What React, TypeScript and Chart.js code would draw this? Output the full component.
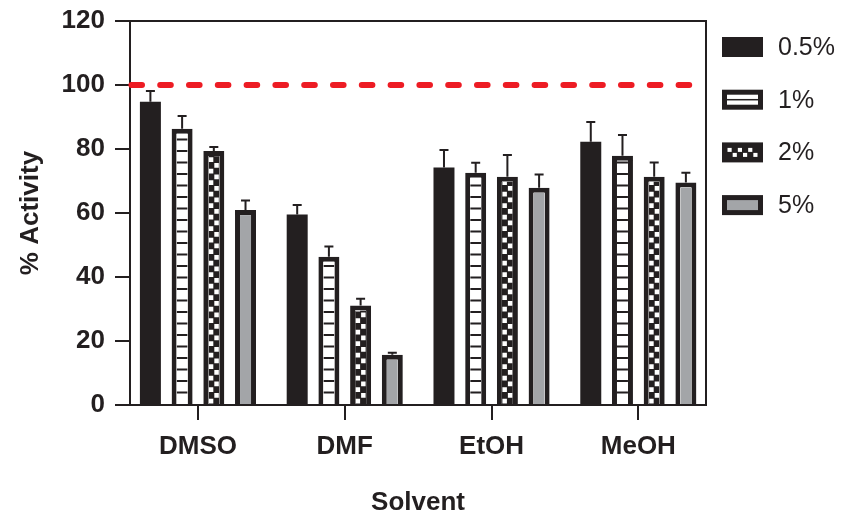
import React, { useEffect, useRef } from 'react';
import { Chart, registerables } from 'chart.js';

Chart.register(...registerables);

const categories = ['DMSO', 'DMF', 'EtOH', 'MeOH'];
const seriesNames = ['0.5%', '1%', '2%', '5%'];
const seriesKinds = ['solid', 'stripes', 'checker', 'gray'];
const values05 = [94.8, 59.5, 74.2, 82.3];
const values1 = [86.3, 46.3, 72.6, 77.9];
const values2 = [79.4, 31.1, 71.3, 71.3];
const values5 = [60.9, 15.7, 67.9, 69.5];
const errors05 = [3.3, 3.0, 5.5, 6.1];
const errors1 = [4.0, 3.2, 3.1, 6.5];
const errors2 = [1.2, 2.1, 6.8, 4.5];
const errors5 = [3.0, 0.6, 4.1, 3.1];
const yTicks = [0, 20, 40, 60, 80, 100, 120];
const referenceValue = 100;

const seriesValues = [values05, values1, values2, values5];
const seriesErrors = [errors05, errors1, errors2, errors5];

const INK = '#231f20';
const GRAY = '#a3a5a8';
const RED = '#ed1c24';
const FAMILY = '"Liberation Sans", Arial, Helvetica, sans-serif';
const BAR_BORDER = 5;

function fillInterior(ctx: CanvasRenderingContext2D, kind: string, l: number, t: number, w: number, h: number, base: number) {
  if (w <= 0 || h <= 0) return;
  ctx.save();
  ctx.beginPath();
  ctx.rect(l, t, w, h);
  ctx.clip();
  if (kind === 'solid') {
    ctx.fillStyle = INK;
    ctx.fillRect(l, t, w, h);
  } else if (kind === 'gray') {
    ctx.fillStyle = GRAY;
    ctx.fillRect(l, t, w, h);
  } else if (kind === 'stripes') {
    ctx.fillStyle = '#ffffff';
    ctx.fillRect(l, t, w, h);
    ctx.fillStyle = INK;
    for (let yy = base - 11.5; yy > t - 3; yy -= 11.5) {
      ctx.fillRect(l, yy - 1, w, 2);
    }
  } else if (kind === 'checker') {
    ctx.fillStyle = INK;
    ctx.fillRect(l, t, w, h);
    ctx.fillStyle = '#ffffff';
    const cw = w / 2;
    const rh = 5.75;
    let row = 0;
    for (let yy = base; yy > t; yy -= rh, row++) {
      const col = row % 2;
      ctx.fillRect(l + col * cw + 0.5, yy - rh + 0.5, cw - 1, rh - 1);
    }
  }
  ctx.restore();
}

const decorPlugin = {
  id: 'decor',
  afterDatasetsDraw(chart: any) {
    const ctx: CanvasRenderingContext2D = chart.ctx;
    const yScale = chart.scales.y;
    const area = chart.chartArea;
    chart.data.datasets.forEach((ds: any, di: number) => {
      const kind = seriesKinds[di];
      if (kind === 'solid') return;
      const meta = chart.getDatasetMeta(di);
      meta.data.forEach((bar: any) => {
        const p = bar.getProps(['x', 'y', 'base', 'width'], true);
        const l = p.x - p.width / 2 + BAR_BORDER;
        const r = p.x + p.width / 2 - BAR_BORDER;
        const t = p.y + BAR_BORDER;
        const b = p.base;
        fillInterior(ctx, kind, l, t, r - l, b - t, b);
      });
    });
    ctx.save();
    ctx.strokeStyle = INK;
    ctx.lineWidth = 2;
    chart.data.datasets.forEach((ds: any, di: number) => {
      const meta = chart.getDatasetMeta(di);
      meta.data.forEach((bar: any, i: number) => {
        const p = bar.getProps(['x', 'y'], true);
        const v = seriesValues[di][i];
        const e = seriesErrors[di][i];
        const yTop = yScale.getPixelForValue(v + e);
        ctx.beginPath();
        ctx.moveTo(p.x, p.y);
        ctx.lineTo(p.x, yTop);
        ctx.moveTo(p.x - 4.5, yTop);
        ctx.lineTo(p.x + 4.5, yTop);
        ctx.stroke();
      });
    });
    ctx.restore();
    const yRef = yScale.getPixelForValue(referenceValue);
    ctx.save();
    ctx.strokeStyle = RED;
    ctx.lineWidth = 6;
    ctx.lineCap = 'round';
    ctx.setLineDash([10.6, 18.2]);
    ctx.beginPath();
    ctx.moveTo(area.left + 1.4, yRef);
    ctx.lineTo(area.right - 3, yRef);
    ctx.stroke();
    ctx.restore();
  },
  afterDraw(chart: any) {
    const ctx: CanvasRenderingContext2D = chart.ctx;
    const area = chart.chartArea;
    ctx.save();
    ctx.strokeStyle = INK;
    ctx.lineWidth = 2;
    ctx.beginPath();
    ctx.moveTo(area.left, area.top);
    ctx.lineTo(area.right, area.top);
    ctx.lineTo(area.right, area.bottom);
    ctx.stroke();
    ctx.restore();
    const boxL = area.right + 16;
    const boxW = 41;
    const boxH = 20;
    ctx.save();
    ctx.font = `25px ${FAMILY}`;
    ctx.textBaseline = 'middle';
    ctx.textAlign = 'left';
    seriesNames.forEach((name, i) => {
      const cy = area.top + 26 + i * 52.7;
      const top = cy - boxH / 2;
      ctx.fillStyle = INK;
      ctx.fillRect(boxL, top, boxW, boxH);
      const kind = seriesKinds[i];
      const il = boxL + 5, it = top + 5, iw = boxW - 10, ih = boxH - 10;
      if (kind === 'stripes') {
        ctx.fillStyle = '#ffffff';
        ctx.fillRect(il, it, iw, ih);
        ctx.fillStyle = INK;
        ctx.fillRect(il, cy - 0.75, iw, 1.5);
      } else if (kind === 'gray') {
        ctx.fillStyle = GRAY;
        ctx.fillRect(il, it, iw, ih);
      } else if (kind === 'checker') {
        ctx.fillStyle = '#ffffff';
        const cw = iw / 6;
        for (let c = 0; c < 6; c++) {
          const rowTop = c % 2 === 0 ? it : it + ih / 2;
          ctx.fillRect(il + c * cw + 0.5, rowTop + 0.5, cw - 1, ih / 2 - 1);
        }
      }
      ctx.fillStyle = INK;
      ctx.fillText(name, boxL + 56, cy + 1);
    });
    ctx.restore();
  },
};

export default function App() {
  const canvasRef = useRef<HTMLCanvasElement | null>(null);

  useEffect(() => {
    if (!canvasRef.current) return;
    const boldFont = { family: FAMILY, size: 26, weight: 'bold' as const };
    const chart = new Chart(canvasRef.current, {
      type: 'bar',
      data: {
        datasets: seriesNames.map((name, di) => ({
          label: name,
          data: seriesValues[di].map((v, i) => ({ x: i, y: v })),
          backgroundColor: seriesKinds[di] === 'solid' ? INK : '#ffffff',
          borderColor: INK,
          borderWidth: seriesKinds[di] === 'solid' ? 0 : BAR_BORDER,
          borderSkipped: 'start',
          categoryPercentage: 0.864,
          barPercentage: 0.662,
        })),
      },
      options: {
        responsive: false,
        animation: false,
        layout: { padding: { left: 0, top: 21, right: 136, bottom: 0 } },
        plugins: {
          legend: { display: false },
          tooltip: { enabled: false },
        },
        scales: {
          x: {
            type: 'linear',
            offset: false,
            min: -0.463,
            max: 3.461,
            afterBuildTicks: (s: any) => {
              s.ticks = categories.map((_, i) => ({ value: i }));
            },
            afterFit: (s: any) => {
              s.height = 111;
              s.paddingLeft = 0;
              s.paddingRight = 0;
            },
            ticks: {
              autoSkip: false,
              maxRotation: 0,
              padding: 11,
              color: INK,
              font: { ...boldFont, lineHeight: 1.2 },
              callback: (v: any) => categories[Number(v)] ?? '',
            },
            grid: {
              offset: false,
              drawOnChartArea: false,
              drawTicks: true,
              tickLength: 15,
              color: INK,
              lineWidth: 2,
            },
            border: { display: true, color: INK, width: 2 },
            title: {
              display: true,
              text: 'Solvent',
              color: INK,
              font: { ...boldFont, lineHeight: 1 },
              padding: { top: 0, bottom: 0 },
            },
          },
          y: {
            min: 0,
            max: 120,
            afterBuildTicks: (s: any) => {
              s.ticks = yTicks.map((v) => ({ value: v }));
            },
            afterFit: (s: any) => {
              s.width = 130;
              s.paddingTop = 0;
              s.paddingBottom = 0;
            },
            ticks: {
              padding: 10,
              color: INK,
              font: boldFont,
            },
            grid: {
              drawOnChartArea: false,
              drawTicks: true,
              tickLength: 15,
              color: INK,
              lineWidth: 2,
            },
            border: { display: true, color: INK, width: 2 },
            title: {
              display: true,
              text: '% Activity',
              color: INK,
              font: { ...boldFont, lineHeight: 1 },
              padding: { top: 18, bottom: 0 },
            },
          },
        },
      },
      plugins: [decorPlugin],
    } as any);
    return () => chart.destroy();
  }, []);

  return (
    <div style={{ position: 'absolute', left: 0, top: 0, width: 842, height: 516, background: '#ffffff' }}>
      <canvas ref={canvasRef} width={842} height={516} style={{ display: 'block' }} />
    </div>
  );
}
